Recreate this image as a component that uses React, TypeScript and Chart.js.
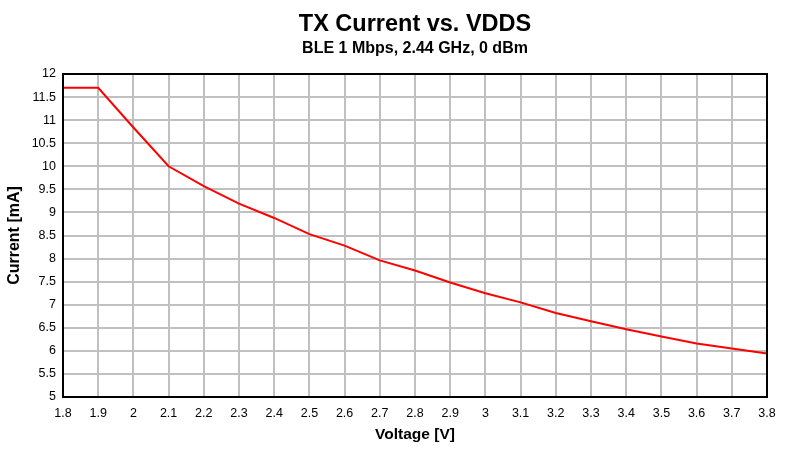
import { useEffect, useRef } from 'react';
import { Chart, registerables } from 'chart.js';

Chart.register(...registerables);

const voltage = [1.8, 1.9, 2.0, 2.1, 2.2, 2.3, 2.4, 2.5, 2.6, 2.7, 2.8, 2.9, 3.0, 3.1, 3.2, 3.3, 3.4, 3.5, 3.6, 3.7, 3.8];
const current = [11.7, 11.7, 10.84, 10.0, 9.57, 9.19, 8.88, 8.53, 8.28, 7.96, 7.74, 7.48, 7.25, 7.05, 6.82, 6.64, 6.47, 6.31, 6.16, 6.05, 5.94];

const xTickValues = [1.8, 1.9, 2.0, 2.1, 2.2, 2.3, 2.4, 2.5, 2.6, 2.7, 2.8, 2.9, 3.0, 3.1, 3.2, 3.3, 3.4, 3.5, 3.6, 3.7, 3.8];
const yTickValues = [5, 5.5, 6, 6.5, 7, 7.5, 8, 8.5, 9, 9.5, 10, 10.5, 11, 11.5, 12];

const titleText = 'TX Current vs. VDDS';
const subtitleText = 'BLE 1 Mbps, 2.44 GHz, 0 dBm';
const xTitle = 'Voltage [V]';
const yTitle = 'Current [mA]';

const FONT = 'Arial, "Liberation Sans", Helvetica, sans-serif';

const fmt = (v: number) => String(Number(v.toFixed(2)));

const headerPlugin = {
  id: 'headerFrame',
  afterDraw(chart: any) {
    const { ctx, chartArea } = chart;
    const cx = (chartArea.left + chartArea.right) / 2;
    ctx.save();
    ctx.fillStyle = '#000';
    ctx.textAlign = 'center';
    ctx.textBaseline = 'alphabetic';
    ctx.font = `bold 23.5px ${FONT}`;
    ctx.fillText(titleText, cx, 30.5);
    ctx.font = `bold 16px ${FONT}`;
    ctx.fillText(subtitleText, cx, 52.7);
    ctx.strokeStyle = '#000';
    ctx.lineWidth = 2;
    ctx.strokeRect(chartArea.left, chartArea.top, chartArea.right - chartArea.left, chartArea.bottom - chartArea.top);
    ctx.restore();
  },
};

export default function App() {
  const ref = useRef<HTMLCanvasElement | null>(null);

  useEffect(() => {
    if (!ref.current) return;
    const chart = new Chart(ref.current, {
      type: 'line',
      data: {
        datasets: [
          {
            label: 'TX Current',
            data: voltage.map((v, i) => ({ x: v, y: current[i] })),
            borderColor: '#FF0000',
            backgroundColor: '#FF0000',
            borderWidth: 2,
            pointRadius: 0,
            tension: 0,
            fill: false,
          },
        ],
      },
      options: {
        animation: false,
        responsive: false,
        layout: { padding: { top: 74, left: 0, right: 26, bottom: 0 } },
        plugins: {
          legend: { display: false },
          title: { display: false },
          tooltip: { enabled: false },
        },
        scales: {
          x: {
            type: 'linear',
            min: 1.8,
            max: 3.8,
            afterBuildTicks: (scale: any) => {
              scale.ticks = xTickValues.map((v) => ({ value: v }));
            },
            afterFit: (scale: any) => {
              scale.height = 52;
            },
            grid: { color: '#C0C0C0', lineWidth: 2, drawTicks: false },
            border: { display: false },
            ticks: {
              padding: 9,
              color: '#000',
              font: { family: FONT, size: 12.5 },
              maxRotation: 0,
              autoSkip: false,
              callback: (v: any) => fmt(Number(v)),
            },
            title: {
              display: true,
              text: xTitle,
              color: '#000',
              font: { family: FONT, size: 15.5, weight: 'bold' },
              padding: { top: 0, bottom: 5 },
            },
          },
          y: {
            type: 'linear',
            min: 5,
            max: 12,
            afterBuildTicks: (scale: any) => {
              scale.ticks = yTickValues.map((v) => ({ value: v }));
            },
            afterFit: (scale: any) => {
              scale.width = 63;
            },
            grid: { color: '#C0C0C0', lineWidth: 2, drawTicks: false },
            border: { display: false },
            ticks: {
              padding: 7,
              color: '#000',
              font: { family: FONT, size: 12.5 },
              autoSkip: false,
              callback: (v: any) => fmt(Number(v)),
            },
            title: {
              display: true,
              text: yTitle,
              color: '#000',
              font: { family: FONT, size: 16, weight: 'bold' },
              padding: { top: 5, bottom: 0 },
            },
          },
        },
      },
      plugins: [headerPlugin],
    });
    return () => chart.destroy();
  }, []);

  return (
    <div style={{ position: 'absolute', left: 0, top: 0, width: 793, height: 449, background: '#fff' }}>
      <canvas ref={ref} width={793} height={449} style={{ display: 'block' }} />
    </div>
  );
}
